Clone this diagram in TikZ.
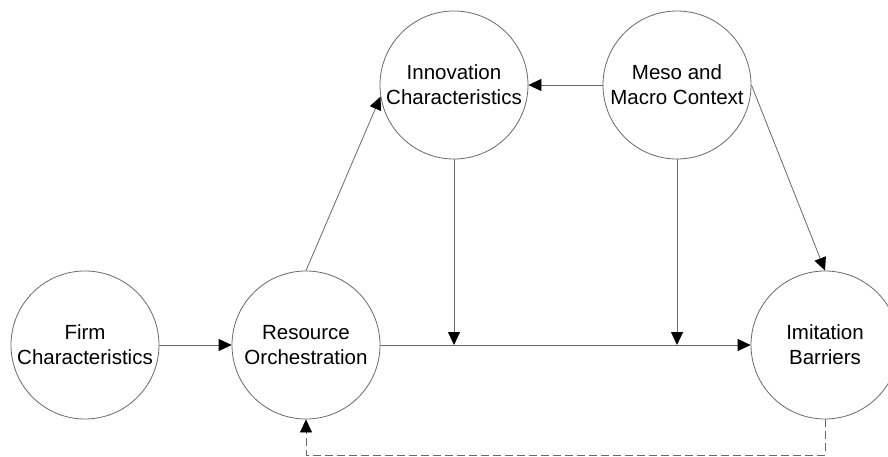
\documentclass[tikz,border=0pt]{standalone}
\usepackage{fontspec}
\setmainfont{Liberation Sans}
\usetikzlibrary{arrows.meta}
\definecolor{linegray}{RGB}{105,105,105}
\begin{document}
\begin{tikzpicture}[x=1pt,y=-1pt,
  concept/.style={circle, draw=linegray, line width=0.8pt, minimum size=148pt, inner sep=0pt,
    align=center, font=\fontsize{20.5}{25}\selectfont, text=black},
  link/.style={draw=linegray, line width=0.8pt, -{Triangle[length=13pt,width=12pt,color=black]}},
  feedback/.style={link, dash pattern=on 8pt off 4pt}]
\clip (0,0) rectangle (888,457);
\fill[white] (0,0) rectangle (888,457);
\node[concept] (firm) at (85,345) {Firm\\Characteristics};
\node[concept] (res)  at (306,345) {Resource\\Orchestration};
\node[concept] (inn)  at (454,85) {Innovation\\Characteristics};
\node[concept] (meso) at (677,85) {Meso and\\Macro Context};
\node[concept] (imit) at (825,345) {Imitation\\Barriers};
\coordinate (j1) at (inn.south |- res.east);
\coordinate (j2) at (meso.south |- res.east);
\coordinate (fbr) at (825,455);
\coordinate (fbl) at (306,455);
\draw[link] (firm.east) -- (res.west);
\draw[link] (res.east) -- (imit.west);
\draw[link] (res.north) -- (inn.189);
\draw[link] (meso.west) -- (inn.east);
\draw[link] (meso.east) -- (imit.north);
\draw[link] (inn.south) -- (j1);
\draw[link] (meso.south) -- (j2);
\draw[feedback] (imit.south) -- (fbr) -- (fbl) -- (res.south);
\end{tikzpicture}
\end{document}
